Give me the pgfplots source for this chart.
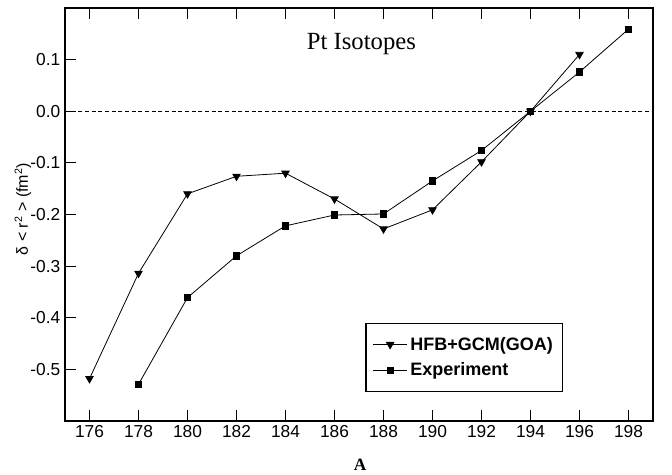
\documentclass[border=0pt]{standalone}
\usepackage{pgfplots}
\pgfplotsset{compat=1.18}
\usepackage{fontspec}
\setmainfont{Liberation Sans}
\newfontfamily\serif{Liberation Serif}
\begin{document}
\begin{tikzpicture}
\begin{axis}[
  scale only axis, width=441pt, height=309.75pt,
  xmin=175, xmax=199, ymin=-0.6, ymax=0.2,
  xtick={176,178,180,182,184,186,188,190,192,194,196,198},
  ytick={-0.5,-0.4,-0.3,-0.2,-0.1,0,0.1},
  yticklabels={{-0.5},{-0.4},{-0.3},{-0.2},{-0.1},{0.0},{0.1}},
  /pgf/number format/assume math mode=true,
  tick label style={font=\fontsize{13}{15}\selectfont},
  xtick pos=both, ytick pos=left, tick align=inside, major tick length=8pt,
  tick style={black, line width=0.8pt},
  axis line style={line width=1pt},
  xlabel={A},
  xlabel style={font=\serif\bfseries\fontsize{13}{15}\selectfont, at={(axis description cs:0.502,-0.107)}, anchor=center},
  ylabel={δ < r\textsuperscript{2} > (fm\textsuperscript{2})},
  ylabel style={font=\fontsize{12}{14}\selectfont, at={(axis description cs:-0.0714,0.513)}, anchor=center},
  legend style={at={(0.511,0.237)}, anchor=north west, draw=black, line width=0.8pt,
    font=\bfseries\fontsize{13.5}{16}\selectfont, cells={anchor=west}, inner xsep=5pt, inner ysep=8pt, row sep=4pt},
  legend image code/.code={\draw[mark repeat=2,mark phase=2] plot coordinates {(0cm,0cm)(0.45cm,0cm)(0.9cm,0cm)};},
]
\addplot[black, line width=0.8pt, densely dashed, forget plot] coordinates {(175,0) (199,0)};
\addplot[black, line width=0.6pt, mark=triangle*, mark size=3.2pt, mark options={rotate=180, solid}] coordinates {
(176,-0.518) (178,-0.314) (180,-0.160) (182,-0.126) (184,-0.120) (186,-0.170)
(188,-0.228) (190,-0.191) (192,-0.098) (194,0.0) (196,0.110)};
\addlegendentry{HFB+GCM(GOA)}
\addplot[black, line width=0.6pt, mark=square*, mark size=2.4pt] coordinates {
(178,-0.529) (180,-0.361) (182,-0.280) (184,-0.222) (186,-0.201) (188,-0.199)
(190,-0.135) (192,-0.076) (194,0.0) (196,0.076) (198,0.159)};
\addlegendentry{Experiment}
\node[font=\serif\fontsize{18.5}{22}\selectfont] at (axis cs:187.1,0.13) {Pt Isotopes};
\end{axis}
\pgfresetboundingbox
\path ([xshift=-48.75pt,yshift=-40.5pt]current axis.south west) rectangle ([xshift=14.25pt,yshift=6pt]current axis.north east);
\end{tikzpicture}
\end{document}
